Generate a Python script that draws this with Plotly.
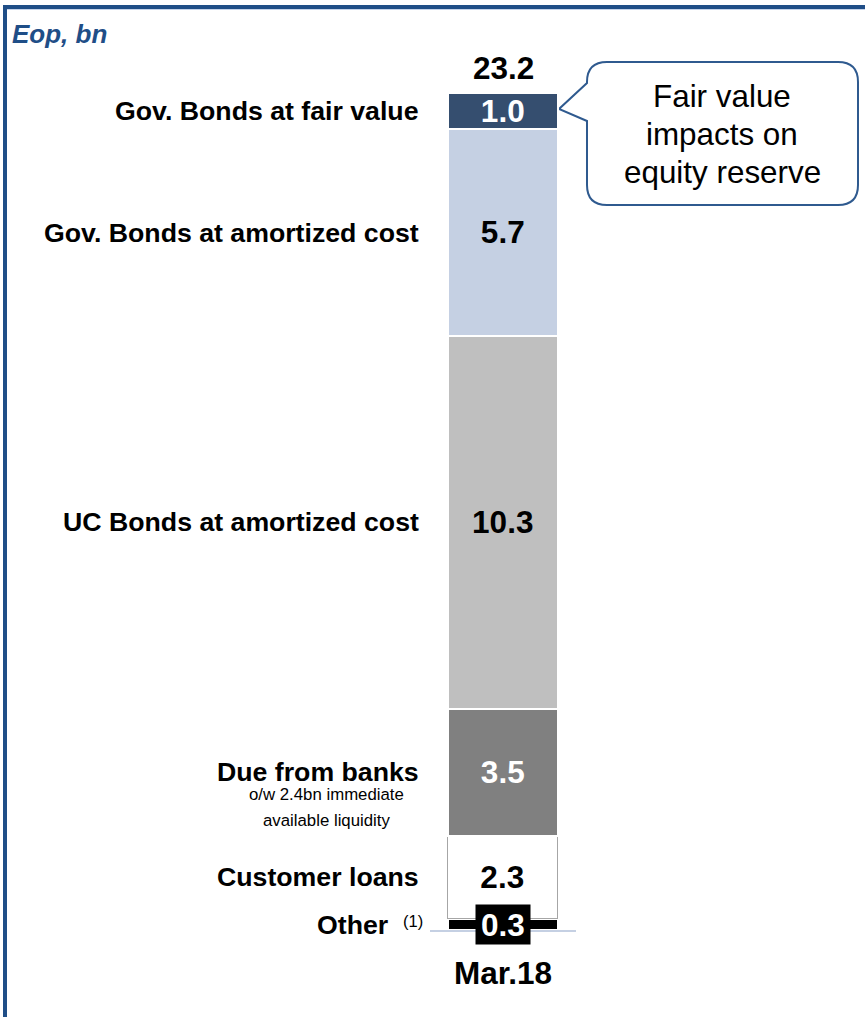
import plotly.graph_objects as go

# ---- data ----
category = ["Mar.18"]
segments = ["Other", "Customer loans", "Due from banks",
            "UC Bonds at amortized cost", "Gov. Bonds at amortized cost",
            "Gov. Bonds at fair value"]
values = [0.3, 2.3, 3.5, 10.3, 5.7, 1.0]
total_label = "23.2"
left_labels = ["Other", "Customer loans", "Due from banks",
               "UC Bonds at amortized cost", "Gov. Bonds at amortized cost",
               "Gov. Bonds at fair value"]
footnote_mark = "(1)"
due_note = ["o/w 2.4bn immediate", "available liquidity"]
callout_lines = ["Fair value", "impacts on", "equity reserve"]
title_text = "Eop, bn"

# ---- styles ----
fills = ["#000000", "#FFFFFF", "#808080", "#BFBFBF", "#C5D0E3", "#354E6F"]
outline = ["#FFFFFF", "#A6A6A6", "#FFFFFF", "#FFFFFF", "#FFFFFF", "#FFFFFF"]
outline_w = [2.5, 1.5, 2.5, 2.5, 2.5, 2.5]
txtcol = ["#FFFFFF", "#000000", "#FFFFFF", "#000000", "#000000", "#FFFFFF"]
label_right = [390, 421, 421, 421, 421, 421]
FONT = "Arial, Liberation Sans, sans-serif"
BLUE = "#1F4E87"
VAL_SIZE = 31.5
LAB_SIZE = 26.7

W, H = 865, 1017
MB = 87                 # bottom margin (axis at pixel 930)
PLOT_H = H - MB
TOP_PX = 93             # pixel of stacked top
total = sum(values)
ppu = (PLOT_H - TOP_PX) / total
ymax = PLOT_H / ppu


def px(x):
    return x / W


def py(y):
    return (PLOT_H - y) / PLOT_H


fig = go.Figure()
for i, (name, v) in enumerate(zip(segments, values)):
    kw = {}
    if name != "Other":
        kw = dict(text=[f"{v:.1f}"], textposition="inside", insidetextanchor="middle",
                  constraintext="none",
                  textfont=dict(family=FONT, size=VAL_SIZE, color=txtcol[i], weight="bold"))
    fig.add_trace(go.Bar(
        x=category, y=[v], name=name,
        marker=dict(color=fills[i], line=dict(color=outline[i], width=outline_w[i])),
        width=0.753, showlegend=False, hoverinfo="name+y", **kw,
    ))

annotations = []
cum = 0
mids = []
for v in values:
    mids.append(cum + v / 2)
    cum += v

for i, lab in enumerate(left_labels):
    annotations.append(dict(
        x=px(label_right[i]), xref="paper", y=mids[i], yref="y", xanchor="right",
        yanchor="middle", text=f"<b>{lab}</b>", showarrow=False,
        font=dict(family=FONT, size=LAB_SIZE, color="#000000")))

# footnote marker next to "Other"
annotations.append(dict(
    x=px(401), xref="paper", y=mids[0], yref="y", xanchor="left", yanchor="middle",
    yshift=4, text=footnote_mark, showarrow=False,
    font=dict(family=FONT, size=16.5, color="#000000")))

# due-from-banks note
for j, line in enumerate(due_note):
    annotations.append(dict(
        x=px(326), xref="paper", y=mids[2], yref="y", xanchor="center", yanchor="middle",
        yshift=-(22 + 26 * j), text=line, showarrow=False,
        font=dict(family=FONT, size=16.8, color="#000000")))

# "Other" value in black box
annotations.append(dict(
    x=category[0], xref="x", y=mids[0], yref="y", xanchor="center", yanchor="middle",
    text=f"<b>{values[0]:.1f}</b>", showarrow=False, bgcolor="#000000",
    width=54, height=39, borderpad=0,
    font=dict(family=FONT, size=VAL_SIZE, color="#FFFFFF")))

# total label
annotations.append(dict(
    x=category[0], xref="x", y=total, yref="y", xanchor="center", yanchor="middle",
    yshift=25, text=f"<b>{total_label}</b>", showarrow=False,
    font=dict(family=FONT, size=VAL_SIZE, color="#000000")))

# title
annotations.append(dict(
    x=px(10), xref="paper", y=py(34), yref="paper", xanchor="left", yanchor="middle",
    text=f"<b><i>{title_text}</i></b>", showarrow=False,
    font=dict(family=FONT, size=26, color=BLUE)))

# callout text (one annotation per line)
for k, line in enumerate(callout_lines):
    annotations.append(dict(
        x=px(722), xref="paper", y=py(97 + 37.5 * k), yref="paper",
        xanchor="center", yanchor="middle",
        text=line, showarrow=False,
        font=dict(family=FONT, size=31.4, color="#000000")))

# callout shape path
L, R, T, B, r = 587, 858, 62, 205, 20
tipx, tipy, p1, p2 = 559, 109, 83, 121


def P(x, y):
    return f"{px(x):.5f},{py(y):.5f}"


path = (f"M {P(L + r, T)} L {P(R - r, T)} Q {P(R, T)} {P(R, T + r)} "
        f"L {P(R, B - r)} Q {P(R, B)} {P(R - r, B)} L {P(L + r, B)} "
        f"Q {P(L, B)} {P(L, B - r)} L {P(L, p2)} L {P(tipx, tipy)} L {P(L, p1)} "
        f"L {P(L, T + r)} Q {P(L, T)} {P(L + r, T)} Z")

shapes = [
    dict(type="path", xref="paper", yref="paper", path=path,
         line=dict(color="#2F5A8F", width=2), fillcolor="#FFFFFF", layer="below"),
    # frame: top and left rules
    dict(type="line", xref="paper", yref="paper", x0=px(3), x1=px(870), y0=py(7), y1=py(7),
         line=dict(color=BLUE, width=4)),
    dict(type="line", xref="paper", yref="paper", x0=px(3), x1=px(870), y0=py(9.5), y1=py(9.5),
         line=dict(color="#C5D3EA", width=1)),
    dict(type="line", xref="paper", yref="paper", x0=px(5), x1=px(5), y0=py(5), y1=py(1020),
         line=dict(color=BLUE, width=4)),
]

fig.update_layout(
    width=W, height=H,
    margin=dict(l=0, r=0, t=0, b=MB),
    barmode="stack", bargap=0,
    paper_bgcolor="#FFFFFF", plot_bgcolor="rgba(0,0,0,0)",
    annotations=annotations, shapes=shapes,
    xaxis=dict(type="category", domain=[px(430), px(576)], range=[-0.5, 0.5],
               showline=True, linecolor="#C5D0E3", linewidth=2, showgrid=False,
               zeroline=False, ticks="", ticklabelstandoff=14,
               tickfont=dict(family=FONT, size=VAL_SIZE, color="#000000", weight="bold"),
               fixedrange=True),
    yaxis=dict(visible=False, range=[0, ymax], fixedrange=True),
    showlegend=False,
)

fig.write_html("out.html", config={"displayModeBar": False},
               post_script="document.body.style.margin='0';document.body.style.overflow='hidden';")
